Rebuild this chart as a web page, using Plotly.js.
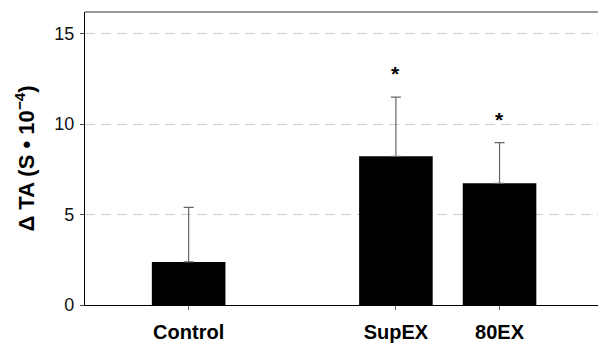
<!DOCTYPE html>
<html>
<head>
<meta charset="utf-8">
<script src="https://cdn.plot.ly/plotly-3.0.1.min.js"></script>
<style>html,body{margin:0;padding:0;background:#fff;}#chart{width:598px;height:343px;}</style>
</head>
<body>
<div id="chart"></div>
<script>
// Data
const categories = ["Control", "SupEX", "80EX"];
const axisOrder = ["Control", " ", "SupEX", "80EX"];
const values = [2.38, 8.22, 6.73];
const errorsUp = [3.02, 3.27, 2.25];
const significant = [false, true, true];
const yTickVals = [0, 5, 10, 15];

const trace = {
  type: "bar",
  x: categories,
  y: values,
  marker: {color: "#000000", line: {width: 0}},
  error_y: {
    type: "data",
    symmetric: false,
    array: errorsUp,
    arrayminus: values.map(() => 0),
    color: "#666666",
    thickness: 1.2,
    width: 5
  },
  hoverinfo: "none"
};

const annotations = [];
categories.forEach((c, i) => {
  if (significant[i]) {
    annotations.push({
      x: c, y: values[i] + errorsUp[i], xref: "x", yref: "y",
      text: "<b>*</b>", showarrow: false, yanchor: "bottom", yshift: 10,
      font: {family: "Liberation Sans, Arial, sans-serif", size: 21, color: "#000"}
    });
  }
});

const layout = {
  width: 598, height: 343,
  margin: {l: 85, r: 0, t: 12, b: 38},
  paper_bgcolor: "#fff", plot_bgcolor: "#fff",
  showlegend: false,
  bargap: 0.29,
  font: {family: "Liberation Sans, Arial, sans-serif", color: "#111"},
  xaxis: {
    type: "category",
    categoryorder: "array",
    categoryarray: axisOrder,
    range: [-1, 3.95],
    tickmode: "array",
    tickvals: categories,
    ticktext: categories.map(c => "<b>" + c + "</b>"),
    ticks: "outside", ticklen: 4, tickcolor: "#666", tickwidth: 1,
    ticklabelstandoff: 5,
    tickfont: {size: 20, color: "#000"},
    showline: true, linecolor: "#000", linewidth: 1.2,
    showgrid: false, zeroline: false, fixedrange: true
  },
  yaxis: {
    range: [0, 16.2],
    tickmode: "array", tickvals: yTickVals,
    ticks: "outside", ticklen: 4, tickcolor: "#444", tickwidth: 1,
    ticklabelstandoff: 2,
    tickfont: {size: 18, color: "#111"},
    showline: true, linecolor: "#000", linewidth: 1.2,
    showgrid: true, gridcolor: "#cccccc", gridwidth: 1, griddash: "10px,6px",
    zeroline: false, fixedrange: true,
    title: {text: "<b>\u0394 TA (S \u2022 10<sup>\u22124</sup>)</b>", font: {size: 22, color: "#000"}, standoff: 13}
  },
  shapes: [{
    type: "line", xref: "paper", yref: "paper", x0: 0, x1: 1, y0: 1, y1: 1,
    line: {color: "#777", width: 1.5}
  }],
  annotations: annotations
};

Plotly.newPlot("chart", [trace], layout, {displayModeBar: false, staticPlot: true});
</script>
</body>
</html>
